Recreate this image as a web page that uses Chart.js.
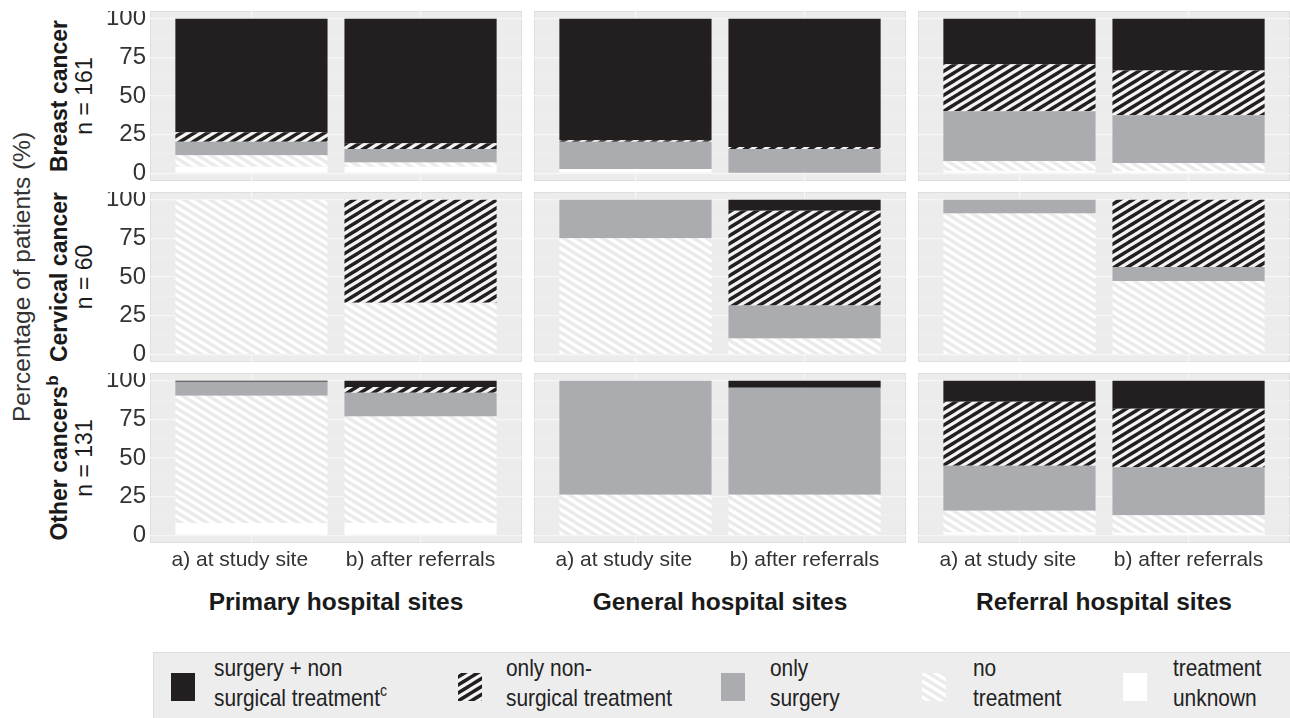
<!DOCTYPE html>
<html>
<head>
<meta charset="utf-8">
<script src="https://cdn.jsdelivr.net/npm/chart.js@4.4.1/dist/chart.umd.min.js"></script>
<style>
  html, body { margin: 0; padding: 0; background: #fff; width: 1290px; height: 718px; overflow: hidden;
    font-family: 'Liberation Sans', Arial, sans-serif; }
  canvas { position: absolute; }
  .lbl { position: absolute; white-space: nowrap; color: #222; }
  .rot { transform: translate(-50%, -50%) rotate(-90deg); text-align: center; }
  .strip { font-size: 23px; line-height: 25px; color: #1a1a1a; }
  .strip b sup { font-size: 17px; vertical-align: 9px; line-height: 0; }
  .colTitle { font-weight: bold; font-size: 24.5px; transform: translate(-50%, -50%); color: #1a1a1a; }
  #legend { position: absolute; left: 153px; top: 652px; width: 1137px; height: 70px; background: #ededed;
    border-top: 1px solid #dcdcdc; border-left: 1px solid #dcdcdc; box-sizing: border-box; }
  .legText { position: absolute; font-size: 24px; line-height: 30px; color: #222;
    transform: scaleX(0.87); transform-origin: 0 0; white-space: nowrap; }
  .legText sup { font-size: 16px; vertical-align: 10px; line-height: 0; }
</style>
</head>
<body>
<div id="legend"></div>
<script>
// Facet labels
const settings = ['a) at study site    ', 'b) after referrals'];
const siteTypes = ['Primary hospital sites', 'General hospital sites', 'Referral hospital sites'];
const cancerNames = ['Breast cancer', 'Cervical cancer', 'Other cancers'];
const cancerNotes = ['', '', 'b'];
const cancerCounts = ['n = 161', 'n = 60', 'n = 131'];
const yTitle = 'Percentage of patients (%)';

// Treatment groups, top of the stack first (legend order)
const treatmentLines = [
  ['surgery + non', 'surgical treatment', 'c'],
  ['only non-', 'surgical treatment', ''],
  ['only', 'surgery', ''],
  ['no', 'treatment', ''],
  ['treatment', 'unknown', '']
];

// Percent of patients; order of values in each array:
// primary a, primary b, general a, general b, referral a, referral b
const breastUnknown      = [4.3, 4.3, 2.8, 0.0, 1.7, 1.5];
const breastNone         = [7.3, 2.6, 0.0, 0.0, 6.3, 5.2];
const breastSurgery      = [8.8, 8.8, 17.6, 15.7, 32.2, 30.9];
const breastNonSurgical  = [6.2, 3.7, 0.9, 1.3, 30.3, 28.9];
const breastBoth         = [73.4, 80.6, 78.7, 83.0, 29.5, 33.5];

const cervicalUnknown     = [0, 0, 0, 0, 0, 0];
const cervicalNone        = [100, 33.3, 75.0, 10.2, 91.1, 47.4];
const cervicalSurgery     = [0, 0, 25.0, 21.3, 8.9, 9.1];
const cervicalNonSurgical = [0, 66.7, 0, 61.3, 0, 43.5];
const cervicalBoth        = [0, 0, 0, 7.2, 0, 0];

const otherUnknown     = [8.0, 8.0, 0, 0, 1.9, 1.7];
const otherNone        = [82.3, 68.9, 26.3, 26.3, 14.0, 11.2];
const otherSurgery     = [9.1, 15.3, 73.7, 69.2, 29.1, 31.1];
const otherNonSurgical = [0, 3.7, 0, 0, 41.4, 37.9];
const otherBoth        = [0.6, 4.1, 0, 4.5, 13.6, 18.1];

// stacking order: bottom to top
const seriesByCancer = [
  [breastUnknown, breastNone, breastSurgery, breastNonSurgical, breastBoth],
  [cervicalUnknown, cervicalNone, cervicalSurgery, cervicalNonSurgical, cervicalBoth],
  [otherUnknown, otherNone, otherSurgery, otherNonSurgical, otherBoth]
];

// ---- fills ----
// Diagonal stripes on a repeating tile; each stripe is drawn past the tile
// edges so neighbouring tiles join without seams.
function stripePattern(bg, fg, rising) {
  const w = 13, h = 8;
  const c = document.createElement('canvas');
  c.width = w; c.height = h;
  const g = c.getContext('2d');
  g.fillStyle = bg; g.fillRect(0, 0, w, h);
  g.strokeStyle = fg; g.lineWidth = 3.2;
  for (const dx of [-2 * w, -w, 0, w, 2 * w]) {
    g.beginPath();
    if (rising) { g.moveTo(dx - w, 2 * h); g.lineTo(dx + 2 * w, -h); }
    else { g.moveTo(dx - w, -h); g.lineTo(dx + 2 * w, 2 * h); }
    g.stroke();
  }
  return g.createPattern(c, 'repeat');
}
const PANEL_BG = '#ececec';
const fills = [
  '#ffffff',                                   // treatment unknown
  stripePattern('#ebebeb', '#ffffff', false),  // no treatment
  '#abacaf',                                   // only surgery
  stripePattern('#231f20', '#f4f4f4', true),   // only non-surgical
  '#231f20'                                    // surgery + non-surgical
];

// ---- layout of the facets ----
const rowTop = [11, 192, 373];
const colLeft = [150, 534, 918];
const PANEL_W = 372, PANEL_H = 170, Y_AXIS_W = 50, X_AXIS_H = 36;
const FONT = 'Liberation Sans';

const panelBackground = {
  id: 'panelBackground',
  beforeDraw(chart) {
    const { ctx, chartArea: a } = chart;
    ctx.save();
    ctx.fillStyle = PANEL_BG;
    ctx.fillRect(a.left, a.top, a.right - a.left, a.bottom - a.top);
    ctx.strokeStyle = '#dedede';
    ctx.lineWidth = 1;
    ctx.strokeRect(a.left + 0.5, a.top + 0.5, a.right - a.left - 1, a.bottom - a.top - 1);
    ctx.restore();
  }
};

const gridColor = ctx => (ctx.tick && ctx.tick.value % 25 === 0) ? '#f6f6f6' : '#f1f1f1';
const gridWidth = ctx => (ctx.tick && ctx.tick.value % 25 === 0) ? 1.2 : 0.6;

function makePanel(row, col) {
  const canvas = document.createElement('canvas');
  const yw = col === 0 ? Y_AXIS_W : 0;
  const xh = row === 2 ? X_AXIS_H : 0;
  canvas.width = PANEL_W + yw;
  canvas.height = PANEL_H + xh;
  canvas.style.left = (colLeft[col] - yw) + 'px';
  canvas.style.top = rowTop[row] + 'px';
  document.body.appendChild(canvas);

  const series = seriesByCancer[row];
  const datasets = series.map((arr, k) => ({
    label: treatmentLines[4 - k].slice(0, 2).join(' '),
    data: [{ x: 1, y: arr[2 * col] }, { x: 2, y: arr[2 * col + 1] }],
    backgroundColor: fills[k],
    borderWidth: 0,
    categoryPercentage: 1,
    barPercentage: 0.9
  }));

  new Chart(canvas, {
    type: 'bar',
    data: { datasets },
    plugins: [panelBackground],
    options: {
      responsive: false,
      animation: false,
      devicePixelRatio: 1,
      layout: { padding: 0 },
      plugins: { legend: { display: false }, tooltip: { enabled: false } },
      scales: {
        x: {
          type: 'linear', min: 0.4, max: 2.6, offset: false, stacked: true,
          grid: { offset: false, color: '#f6f6f6', lineWidth: 1.2, drawTicks: false },
          border: { display: false },
          ticks: {
            display: row === 2, stepSize: 1, includeBounds: false, autoSkip: false, maxRotation: 0,
            padding: 5, color: '#333', font: { family: FONT, size: 21 },
            callback: v => settings[v - 1] ?? ''
          },
          afterFit(s) { s.height = xh; s.paddingLeft = 0; s.paddingRight = 0; }
        },
        y: {
          min: -5, max: 105, stacked: true,
          grid: { color: gridColor, lineWidth: gridWidth, drawTicks: false },
          border: { display: false },
          ticks: {
            display: col === 0, stepSize: 12.5, includeBounds: false, autoSkip: false,
            padding: 4, color: '#333', font: { family: FONT, size: 24 },
            callback: v => (v % 25 === 0 ? String(v) : '')
          },
          afterFit(s) { s.width = yw; s.paddingTop = 0; s.paddingBottom = 0; }
        }
      }
    }
  });
}

for (let r = 0; r < 3; r++) for (let c = 0; c < 3; c++) makePanel(r, c);

// ---- text around the facets ----
function addText(html, cls, x, y, extraStyle) {
  const d = document.createElement('div');
  d.className = 'lbl ' + cls;
  d.innerHTML = html;
  d.style.left = x + 'px';
  d.style.top = y + 'px';
  if (extraStyle) Object.assign(d.style, extraStyle);
  document.body.appendChild(d);
  return d;
}

addText(yTitle, 'rot', 22, 277, { fontSize: '24.5px', color: '#333' });

for (let r = 0; r < 3; r++) {
  const note = cancerNotes[r] ? '<sup>' + cancerNotes[r] + '</sup>' : '';
  addText('<b>' + cancerNames[r] + note + '</b><br>' + cancerCounts[r], 'rot strip', 72, rowTop[r] + PANEL_H / 2);
}

for (let c = 0; c < 3; c++) {
  addText(siteTypes[c], 'colTitle', colLeft[c] + PANEL_W / 2, 602);
}

// ---- legend ----
const legend = document.getElementById('legend');
const keyLeft = [17, 304, 567, 768, 969];
const textLeft = [60, 352, 616, 819, 1019];
treatmentLines.forEach((lines, i) => {
  const k = document.createElement('canvas');
  k.width = 24; k.height = 28;
  k.style.left = keyLeft[i] + 'px';
  k.style.top = '20px';
  const g = k.getContext('2d');
  g.fillStyle = fills[4 - i];
  g.fillRect(0, 0, 24, 28);
  legend.appendChild(k);

  const t = document.createElement('div');
  t.className = 'legText';
  t.style.left = textLeft[i] + 'px';
  t.style.top = '0px';
  t.innerHTML = lines[0] + '<br>' + lines[1] + (lines[2] ? '<sup>' + lines[2] + '</sup>' : '');
  legend.appendChild(t);
});
</script>
</body>
</html>
